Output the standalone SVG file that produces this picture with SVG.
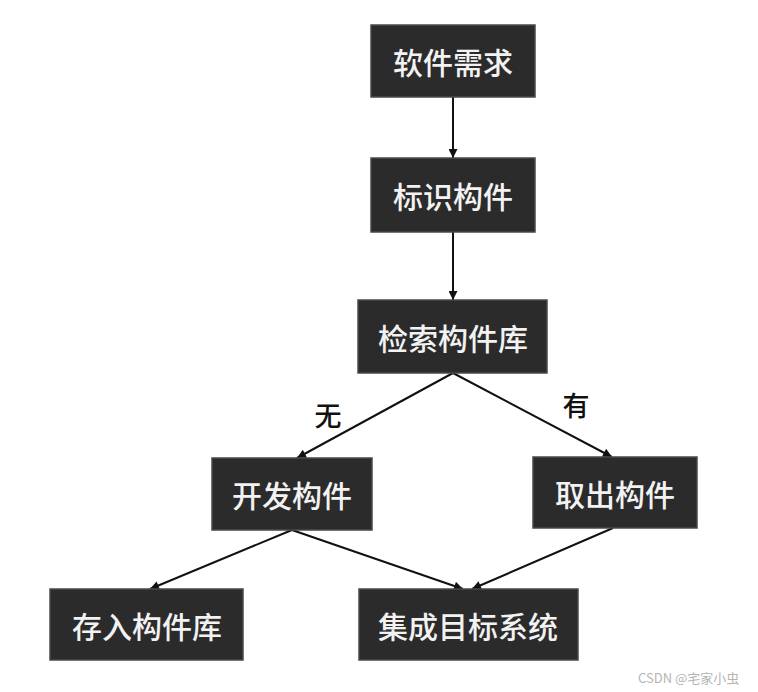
<svg xmlns="http://www.w3.org/2000/svg" width="758" height="692" viewBox="0 0 758 692">
<defs>
<marker id="ah" viewBox="0 0 10 10" refX="10" refY="5" markerWidth="11" markerHeight="9" markerUnits="userSpaceOnUse" orient="auto">
<path d="M0,0 L10,5 L0,10 z" fill="#111"/>
</marker>
<style>
.box{fill:#2b2b2b;stroke:#4a4a4a;stroke-width:1.5}
.t{fill:#f2f2f2;font-family:"Noto Sans CJK SC","Noto Sans",sans-serif;font-size:30px;font-weight:500;text-anchor:middle;dominant-baseline:central}
.lbl{fill:#111;font-family:"Noto Sans CJK SC","Noto Sans",sans-serif;font-size:27px;font-weight:500;text-anchor:middle;dominant-baseline:central}
.c{stroke:#111;stroke-width:2;fill:none;marker-end:url(#ah)}
.wm{fill:#b5b5b5;font-family:"Noto Sans CJK SC","Noto Sans",sans-serif;font-size:13px}
</style>
</defs>
<rect width="758" height="692" fill="#ffffff"/>
<g id="connectors">
<line class="c" x1="453" y1="97" x2="453" y2="158"/>
<line class="c" x1="453" y1="232" x2="453" y2="300"/>
<line class="c" x1="453" y1="373" x2="297" y2="458"/>
<line class="c" x1="453" y1="373" x2="612" y2="457"/>
<line class="c" x1="292" y1="530" x2="150" y2="589"/>
<line class="c" x1="292" y1="530" x2="463" y2="589"/>
<line class="c" x1="613" y1="528" x2="472" y2="589"/>
<text class="lbl" x="328" y="414">无</text>
<text class="lbl" x="576" y="404">有</text>
</g>
<g id="n1"><rect class="box" x="371" y="25" width="164" height="72"/><text class="t" x="453" y="61">软件需求</text></g>
<g id="n2"><rect class="box" x="371" y="158" width="164" height="74"/><text class="t" x="453" y="195">标识构件</text></g>
<g id="n3"><rect class="box" x="358" y="300" width="189" height="73"/><text class="t" x="453" y="337">检索构件库</text></g>
<g id="n4"><rect class="box" x="212" y="458" width="160" height="72"/><text class="t" x="292" y="494">开发构件</text></g>
<g id="n5"><rect class="box" x="533" y="457" width="164" height="71"/><text class="t" x="615" y="493">取出构件</text></g>
<g id="n6"><rect class="box" x="50" y="589" width="193" height="71"/><text class="t" x="147" y="625">存入构件库</text></g>
<g id="n7"><rect class="box" x="359" y="589" width="219" height="71"/><text class="t" x="468" y="625">集成目标系统</text></g>
<text class="wm" x="638" y="683">CSDN @宅家小虫</text>
</svg>
